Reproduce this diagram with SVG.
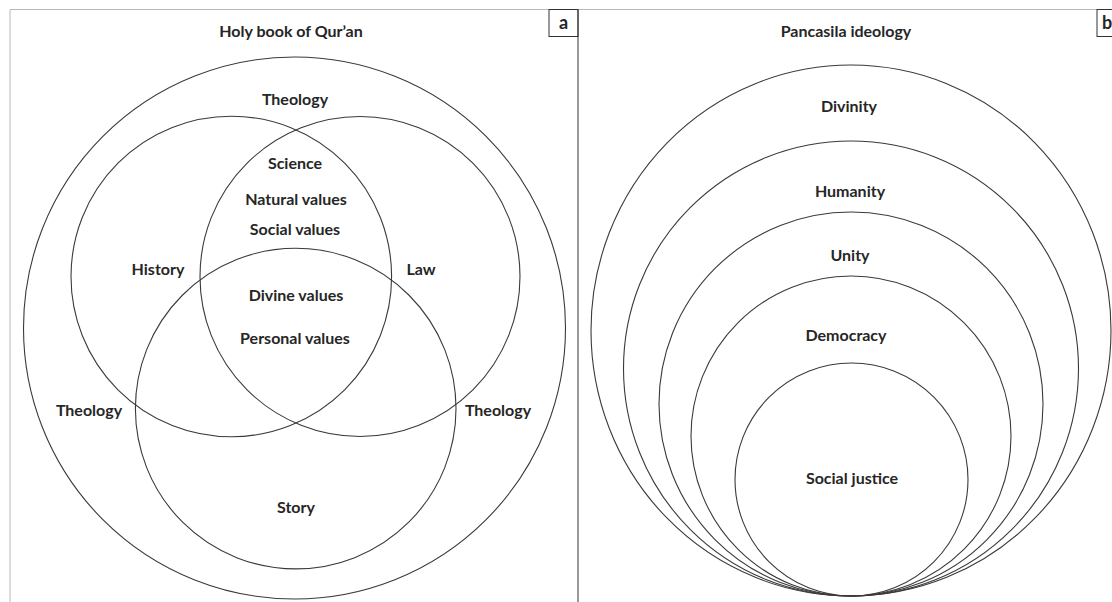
<svg xmlns="http://www.w3.org/2000/svg" width="1112" height="602" viewBox="0 0 1112 602">
<style>
.frame{fill:none;stroke:#b8b8b8;stroke-width:1}
.div{fill:none;stroke:#333;stroke-width:1}
.c{fill:none;stroke:#3a3a3a;stroke-width:1.1}
.t{font-family:Lato,"Liberation Sans",sans-serif;font-weight:bold;font-size:16px;fill:#262626;text-anchor:middle;dominant-baseline:central}
.lbl{font-family:Lato,"Liberation Sans",sans-serif;font-weight:bold;font-size:18px;fill:#262626;text-anchor:middle;dominant-baseline:central}
</style>
<rect width="1112" height="602" fill="#fff"/>
<g id="frame">
<line class="frame" x1="10" y1="9.5" x2="1112" y2="9.5"/>
<line class="frame" x1="10" y1="9.5" x2="10" y2="602"/>
<line class="div" x1="578" y1="9.5" x2="578" y2="602"/>
<rect class="div" x="549" y="9.5" width="29" height="27"/>
<text class="lbl" x="563.5" y="21.5">a</text>
<rect class="div" x="1097" y="9.5" width="20" height="27"/>
<text class="lbl" x="1107" y="21.5">b</text>
</g>
<g id="panel-a">
<text class="t" x="291" y="30">Holy book of Qur’an</text>
<g id="outer-a"><circle class="c" cx="294.5" cy="328" r="271"/>
<text class="t" x="295" y="98">Theology</text>
<text class="t" x="89" y="409">Theology</text>
<text class="t" x="498" y="409">Theology</text></g>
<g id="history"><circle class="c" cx="231.3" cy="276.5" r="160.3"/>
<text class="t" x="158" y="268">History</text></g>
<g id="law"><circle class="c" cx="360" cy="276.5" r="160"/>
<text class="t" x="421" y="268">Law</text></g>
<g id="story"><circle class="c" cx="295.7" cy="408.6" r="160.3"/>
<text class="t" x="296" y="506">Story</text></g>
<g id="center-labels">
<text class="t" x="295" y="162">Science</text>
<text class="t" x="296" y="198">Natural values</text>
<text class="t" x="295" y="228">Social values</text>
<text class="t" x="296" y="294">Divine values</text>
<text class="t" x="295" y="337">Personal values</text>
</g>
</g>
<g id="panel-b">
<text class="t" x="846" y="30">Pancasila ideology</text>
<g id="divinity"><ellipse class="c" cx="851" cy="330.5" rx="260" ry="265.5"/>
<text class="t" x="849" y="105">Divinity</text></g>
<g id="humanity"><circle class="c" cx="851" cy="368.5" r="227.5"/>
<text class="t" x="850" y="190">Humanity</text></g>
<g id="unity"><circle class="c" cx="851" cy="404" r="192"/>
<text class="t" x="850" y="254">Unity</text></g>
<g id="democracy"><circle class="c" cx="851" cy="436" r="160"/>
<text class="t" x="846" y="334">Democracy</text></g>
<g id="social-justice"><circle class="c" cx="851.5" cy="479.5" r="116.5"/>
<text class="t" x="852" y="477">Social justice</text></g>
</g>
</svg>
